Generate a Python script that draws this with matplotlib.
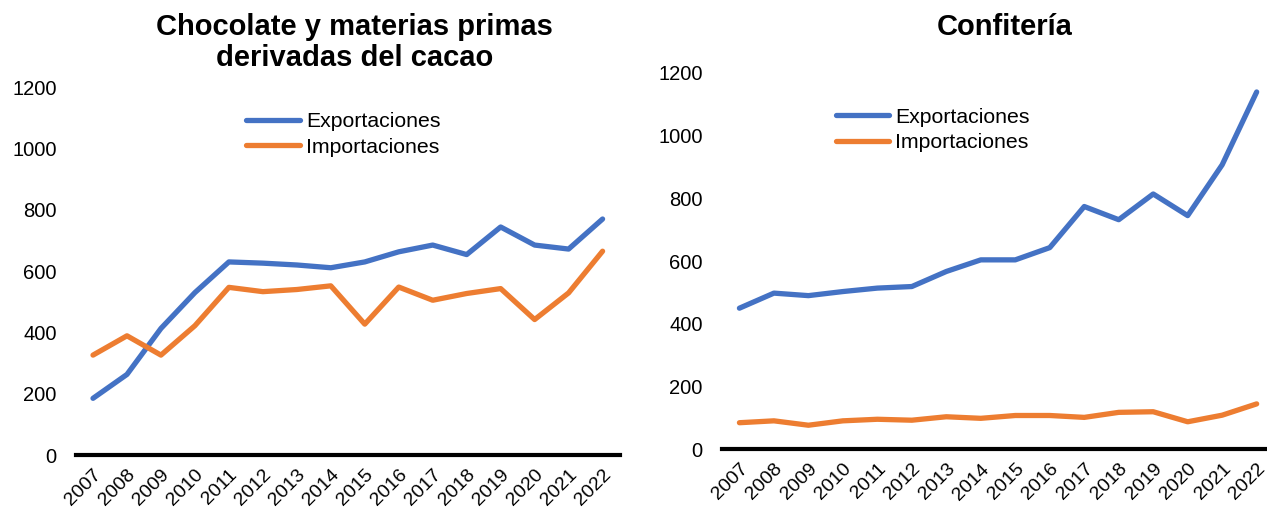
import matplotlib.pyplot as plt

plt.rcParams['font.family'] = ['Liberation Sans', 'DejaVu Sans']

years = [str(y) for y in range(2007, 2023)]

# Chocolate y materias primas derivadas del cacao
choc_exp = [185, 263, 413, 530, 630, 626, 620, 611, 630, 663, 685, 654, 744, 685, 672, 770]
choc_imp = [326, 389, 326, 422, 547, 533, 540, 552, 427, 548, 505, 527, 543, 442, 529, 665]

# Confitería
conf_exp = [450, 498, 490, 503, 514, 519, 567, 604, 604, 643, 774, 732, 814, 745, 907, 1139]
conf_imp = [85, 91, 77, 91, 96, 93, 104, 99, 108, 108, 102, 118, 120, 88, 109, 145]

BLUE = "#4472C4"
ORANGE = "#ED7D31"

fig = plt.figure(figsize=(12.67, 5.13), dpi=100)
ax1 = fig.add_axes([0.060, 0.113, 0.429, 0.717])
ax2 = fig.add_axes([0.570, 0.124, 0.430, 0.734])


def style_axis(ax, xmax, legend_anchor):
    x = range(len(years))
    ax.set_ylim(0, 1200)
    ax.set_xlim(-0.5, xmax)
    ax.set_yticks(range(0, 1201, 200))
    ax.set_xticks(list(x))
    ax.set_xticklabels(years, rotation=45, ha="right", rotation_mode="anchor")
    ax.tick_params(axis="both", length=0, labelsize=14.5)
    ax.tick_params(axis="x", labelsize=14, pad=8)
    ax.tick_params(axis="y", pad=14)
    for s in ["top", "right", "left"]:
        ax.spines[s].set_visible(False)
    ax.spines["bottom"].set_linewidth(3)
    ax.spines["bottom"].set_color("black")
    ax.spines["bottom"].set_zorder(5)
    leg = ax.legend(loc="upper left", bbox_to_anchor=legend_anchor, frameon=False,
                    fontsize=15.3, handlelength=2.5, handletextpad=0.3,
                    labelspacing=0.3, borderaxespad=0)
    return leg


x = range(len(years))
ax1.plot(x, choc_exp, color=BLUE, lw=3.8, solid_capstyle="round", label="Exportaciones")
ax1.plot(x, choc_imp, color=ORANGE, lw=3.8, solid_capstyle="round", label="Importaciones")
style_axis(ax1, 15.5, (0.298, 0.955))

ax2.plot(x, conf_exp, color=BLUE, lw=3.8, solid_capstyle="round", label="Exportaciones")
ax2.plot(x, conf_imp, color=ORANGE, lw=3.8, solid_capstyle="round", label="Importaciones")
style_axis(ax2, 15.3, (0.193, 0.93))

fig.text(0.280, 0.917, "Chocolate y materias primas\nderivadas del cacao", fontsize=21,
         fontweight="bold", ha="center", va="center", linespacing=1.12)
fig.text(0.793, 0.947, "Confitería", fontsize=21, fontweight="bold", ha="center", va="center")

fig.savefig("out.png", dpi=100)
